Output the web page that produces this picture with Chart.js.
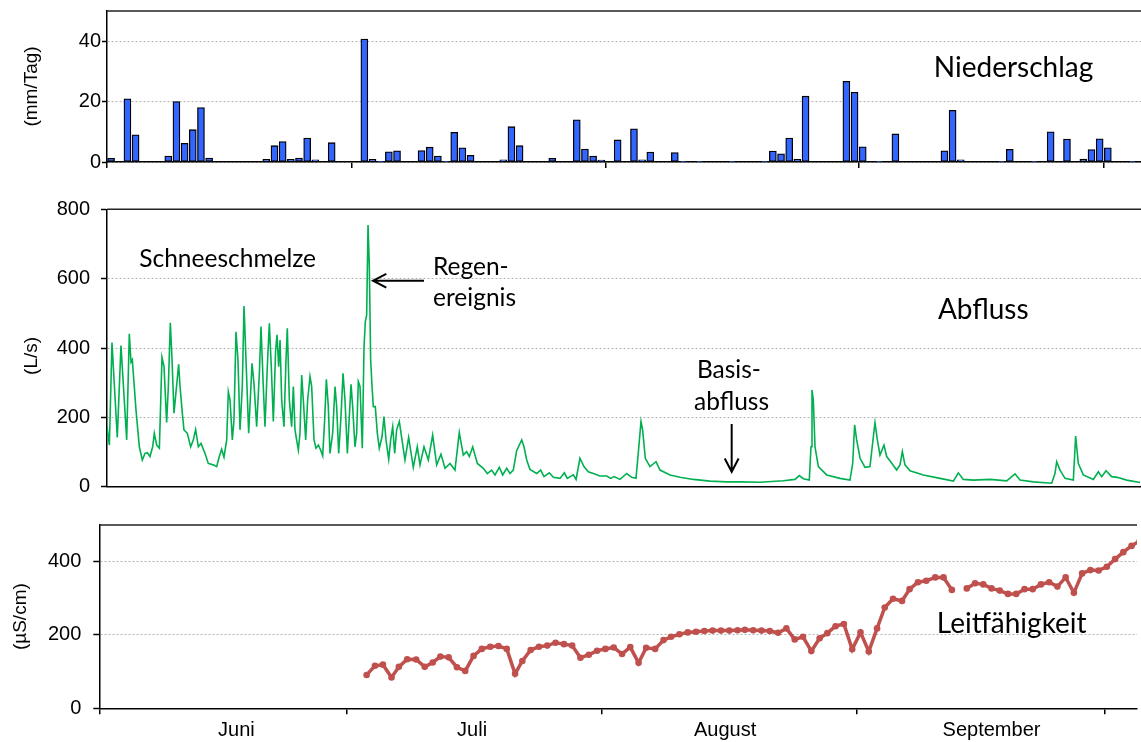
<!DOCTYPE html>
<html lang="de">
<head>
<meta charset="utf-8">
<title>Niederschlag, Abfluss und Leitfähigkeit</title>
<script src="https://cdn.jsdelivr.net/npm/chart.js@4.4.1/dist/chart.umd.min.js"></script>
<style>
  html, body { margin: 0; padding: 0; background: #fff; }
  #wrap { position: relative; width: 1141px; height: 742px; overflow: hidden; }
  canvas { position: absolute; left: 0; }
</style>
</head>
<body>
<div id="wrap">
  <canvas id="cPrecip" width="1141" height="195" style="top:0"></canvas>
  <canvas id="cFlow" width="1141" height="310" style="top:195px"></canvas>
  <canvas id="cCond" width="1141" height="237" style="top:505px"></canvas>
</div>
<script>
// Tag 0 = 1. Juni
const monthStarts = [0, 30, 61, 92, 122];
const monthNames = ['Juni', 'Juli', 'August', 'September'];
const monthLabelDays = [16.65, 45.25, 75.97, 108.3];

// Niederschlag (mm/Tag), ein Wert pro Tag ab 1. Juni
const precip = [
  1.2, 0, 20.9, 9.0, 0, 0, 0, 2.0, 20.0, 6.2, 10.7, 18.0, 1.3, 0, 0, 0, 0, 0, 0, 0.9,
  5.4, 6.8, 0.9, 1.3, 7.9, 0.7, 0, 6.4, 0, 0, 0, 40.7, 0.9, 0.2, 3.4, 3.7, 0, 0, 3.8, 4.9,
  2.0, 0.2, 9.8, 4.7, 2.2, 0, 0, 0, 0.7, 11.7, 5.4, 0, 0, 0, 1.2, 0, 0, 14.0, 4.3, 2.0,
  0.6, 0, 7.3, 0, 11.0, 0.7, 3.3, 0, 0, 3.1, 0.2, 0, 0.2, 0, 0, 0, 0.2, 0, 0, 0,
  0.2, 3.6, 2.7, 7.9, 0.9, 21.8, 0, 0, 0, 0, 26.7, 23.1, 5.0, 0, 0.2, 0, 9.3, 0, 0, 0,
  0, 0, 3.7, 17.1, 0.7, 0, 0, 0, 0, 0.2, 4.2, 0, 0, 0.2, 0, 10.0, 0, 7.6, 0, 1.0,
  4.1, 7.7, 4.7, 0, 0, 0.2, 0
];

// Abfluss (L/s)
const flowDays = [
  0, 0.29, 0.61, 1.26, 1.71, 2.41, 2.73, 2.94, 3.10, 3.55, 3.96, 4.32, 4.65, 4.94, 5.26, 5.59, 5.79, 6.08, 6.41, 6.73,
  6.98, 7.30, 7.51, 7.75, 7.96, 8.20, 8.77, 8.94, 9.22, 9.42, 9.83, 10.24, 10.57, 10.85, 11.18, 11.51, 12.00, 12.40, 13.01, 13.42,
  13.75, 14.03, 14.32, 14.65, 14.85, 15.06, 15.34, 15.54, 15.79, 16.03, 16.28, 16.56, 16.77, 17.09, 17.34, 17.75, 17.99, 18.32, 18.65, 18.85,
  19.13, 19.34, 19.62, 19.87, 20.11, 20.36, 20.64, 20.81, 21.01, 21.18, 21.38, 21.66, 21.91, 22.07, 22.32, 22.60, 22.81, 23.01, 23.21, 23.42,
  23.62, 23.83, 24.03, 24.32, 24.56, 24.85, 25.05, 25.34, 25.58, 25.87, 26.15, 26.40, 26.64, 26.85, 27.09, 27.29, 27.62, 27.91, 28.11, 28.36,
  28.64, 28.89, 29.13, 29.42, 29.66, 29.87, 30.07, 30.35, 30.56, 30.76, 30.97, 31.25, 31.46, 31.62, 31.78, 31.95, 32.11, 32.27, 32.44, 32.60,
  32.84, 33.09, 33.33, 33.66, 33.90, 34.15, 34.48, 34.72, 34.97, 35.21, 35.45, 35.78, 36.47, 36.92, 37.49, 37.98, 38.31, 38.80, 39.33, 39.86,
  40.35, 40.88, 41.37, 41.98, 42.59, 43.12, 43.61, 44.02, 44.35, 44.76, 45.33, 46.06, 46.55, 47.08, 47.49, 48.02, 48.43, 48.92, 49.33, 49.73,
  50.14, 50.76, 51.04, 51.37, 51.77, 52.59, 53.08, 53.49, 54.14, 54.63, 55.45, 55.98, 56.34, 57.08, 57.41, 57.89, 58.38, 58.91, 59.53, 60.34,
  61.16, 61.65, 62.06, 62.79, 63.61, 64.22, 64.75, 65.08, 65.36, 65.56, 65.89, 66.46, 67.20, 67.69, 68.91, 70.13, 71.77, 73.81, 75.85, 77.48,
  79.93, 82.78, 84.21, 84.74, 85.23, 85.96, 86.17, 86.29, 86.45, 86.66, 87.07, 88.09, 89.72, 90.94, 91.27, 91.51, 91.76, 92.17, 92.78, 93.39,
  93.80, 94.00, 94.29, 94.61, 95.10, 95.43, 95.92, 96.65, 97.06, 97.35, 97.67, 98.29, 99.92, 101.96, 103.59, 104.20, 104.81, 106.04, 108.08, 110.12,
  111.14, 111.75, 113.38, 115.63, 116.03, 116.24, 116.65, 117.26, 118.28, 118.56, 118.89, 119.50, 120.73, 121.34, 121.75, 122.28, 122.97, 123.66, 124.81, 126.44
];
const flowValues = [
  173, 120, 416, 142, 407, 135, 441, 359, 366, 221, 115, 77, 96, 98, 87, 115, 154, 120, 111, 373,
  346, 185, 289, 473, 366, 212, 353, 289, 212, 164, 154, 115, 135, 165, 115, 125, 96, 67, 63, 58,
  87, 108, 85, 135, 274, 250, 135, 192, 447, 366, 164, 289, 521, 318, 154, 356, 298, 173, 327, 462,
  289, 173, 346, 471, 346, 188, 394, 438, 346, 423, 250, 173, 366, 457, 250, 173, 289, 164, 135, 106,
  154, 322, 250, 135, 250, 318, 289, 135, 111, 120, 106, 89, 192, 310, 231, 96, 154, 289, 231, 96,
  202, 327, 250, 96, 202, 295, 231, 115, 154, 303, 289, 111, 404, 476, 495, 755, 635, 366, 289, 231,
  231, 154, 111, 144, 202, 135, 79, 135, 173, 96, 164, 188, 77, 142, 56, 115, 63, 115, 77, 149,
  63, 94, 53, 67, 48, 156, 91, 101, 87, 115, 67, 53, 38, 48, 34, 56, 34, 53, 38, 48,
  104, 135, 115, 77, 50, 38, 48, 29, 40, 27, 24, 40, 24, 34, 21, 82, 58, 43, 38, 31,
  31, 24, 29, 21, 38, 27, 24, 111, 188, 164, 82, 58, 72, 48, 34, 27, 21, 16, 14, 14,
  13, 17, 21, 32, 23, 19, 115, 279, 250, 115, 58, 34, 24, 19, 67, 178, 135, 82, 56, 58,
  144, 185, 135, 91, 120, 87, 72, 48, 63, 101, 63, 46, 34, 24, 16, 40, 21, 19, 21, 17,
  37, 19, 14, 10, 38, 72, 48, 24, 19, 146, 67, 34, 21, 43, 29, 46, 29, 27, 19, 12
];

// Leitfähigkeit (µS/cm), null = Messlücke
const condDays = [
  32.45, 33.46, 34.43, 35.47, 36.36, 37.37, 38.46, 39.5, 40.47, 41.4, 42.4, 43.41, 44.42, 45.43, 46.43, 47.45, 48.45, 49.46, 50.47, 51.35,
  52.36, 53.37, 54.38, 55.38, 56.4, 57.4, 58.4, 59.42, 60.42, 61.43, 62.44, 63.45, 64.45, 65.46, 66.38, 67.47, 68.49, 69.4, 70.42, 71.43,
  72.43, 73.45, 74.45, 75.46, 76.47, 77.47, 78.36, 79.37, 80.38, 81.39, 82.4, 83.4, 84.41, 85.42, 86.43, 87.44, 88.37, 89.37, 90.38, 91.39,
  92.4, 93.4, 94.41, 95.34, 96.35, 97.44, 98.36, 99.37, 100.38, 101.47, 102.48, 103.49, 104.4, 105.3, 106.3, 107.3, 108.3, 109.3, 110.3, 111.3,
  112.3, 113.3, 114.3, 115.3, 116.3, 117.3, 118.3, 119.3, 120.3, 121.3, 122.3, 123.3, 124.3, 125.3, 126.3
];
const condValues = [
  91, 116, 119, 84, 113, 134, 133, 113, 125, 141, 139, 112, 102, 143, 162, 168, 170, 162, 94, 129,
  159, 168, 171, 179, 175, 171, 138, 146, 157, 162, 166, 148, 167, 124, 165, 162, 186, 195, 202, 207,
  209, 211, 212, 212, 212, 213, 214, 213, 212, 211, 206, 218, 188, 195, 156, 191, 205, 224, 230, 161,
  207, 155, 218, 275, 299, 293, 325, 344, 348, 357, 357, 323, null, 327, 341, 338, 327, 321, 312, 312,
  325, 325, 338, 344, 332, 357, 315, 368, 377, 376, 386, 407, 426, 443, 457
];

const precipTicks = [0, 20, 40];
const flowTicks = [0, 200, 400, 600, 800];
const condTicks = [0, 200, 400];

const AXIS_FONT = 'Liberation Sans, Arial, sans-serif';
const NOTE_FONT = 'Lato, Calibri, sans-serif';

// Beschriftungen und Pfeile im Diagramm (in Datenkoordinaten)
function notesPlugin(texts, arrows) {
  return {
    id: 'notes',
    afterDraw(chart) {
      const { ctx, chartArea: a, scales } = chart;
      const x = scales.x, y = scales.y;
      ctx.save();
      ctx.strokeStyle = '#222';
      ctx.lineWidth = 1.5;
      ctx.beginPath();
      ctx.moveTo(a.left, a.top);
      ctx.lineTo(a.right, a.top);
      ctx.stroke();
      ctx.fillStyle = '#000';
      ctx.textBaseline = 'alphabetic';
      ctx.textAlign = 'left';
      texts.forEach(t => {
        ctx.font = t.size + 'px ' + NOTE_FONT;
        ctx.fillText(t.text, x.getPixelForValue(t.x), y.getPixelForValue(t.y));
      });
      ctx.lineWidth = 2;
      ctx.strokeStyle = '#000';
      arrows.forEach(ar => {
        const x1 = x.getPixelForValue(ar.from[0]), y1 = y.getPixelForValue(ar.from[1]);
        const x2 = x.getPixelForValue(ar.to[0]), y2 = y.getPixelForValue(ar.to[1]);
        const ang = Math.atan2(y2 - y1, x2 - x1);
        const len = 15, spread = 0.48;
        ctx.beginPath();
        ctx.moveTo(x1, y1);
        ctx.lineTo(x2, y2);
        ctx.moveTo(x2 - len * Math.cos(ang - spread), y2 - len * Math.sin(ang - spread));
        ctx.lineTo(x2, y2);
        ctx.lineTo(x2 - len * Math.cos(ang + spread), y2 - len * Math.sin(ang + spread));
        ctx.stroke();
      });
      ctx.restore();
    }
  };
}

function yAxis(max, ticks, title, axisWidth, titlePad, tickLen, labelPad) {
  return {
    type: 'linear',
    min: 0,
    max: max,
    afterBuildTicks: s => { s.ticks = ticks.map(v => ({ value: v })); },
    afterFit: s => { s.width = axisWidth; },
    grid: { color: '#b4b4b4', lineWidth: 1, tickColor: '#000', tickLength: tickLen, tickWidth: 1.5, tickBorderDash: [] },
    border: { color: '#000', width: 1.5, dash: [2, 2] },
    // kleine lineHeight, damit die Beschriftung den Plotbereich nicht verschiebt
    ticks: { color: '#000', padding: labelPad, font: { family: AXIS_FONT, size: 20, lineHeight: 0.2 } },
    title: {
      display: true, text: title, color: '#000',
      font: { family: AXIS_FONT, size: 19, lineHeight: 1.2 },
      padding: { top: titlePad, bottom: 0 }
    }
  };
}

function xTickAxis(max, height, withTicks) {
  return {
    type: 'linear',
    min: 0,
    max: max,
    offset: false,
    weight: 0,
    afterBuildTicks: s => { s.ticks = monthStarts.map(v => ({ value: v })); },
    afterFit: s => { s.height = height; },
    grid: withTicks
      ? { offset: false, drawOnChartArea: false, drawTicks: true, tickLength: 6, tickColor: '#000', lineWidth: 1.5 }
      : { offset: false, display: false, drawTicks: false },
    border: { display: true, color: '#000', width: 1.5 },
    ticks: { display: false }
  };
}

const common = {
  responsive: false,
  animation: false,
  events: [],
  plugins: { legend: { display: false }, tooltip: { enabled: false } }
};

function build() {
  // Niederschlag
  new Chart(document.getElementById('cPrecip'), {
    type: 'bar',
    data: {
      datasets: [{
        data: precip.map((v, i) => ({ x: i + 0.5, y: v > 0 ? v : null })),
        backgroundColor: '#3366ff',
        borderColor: '#000',
        borderWidth: 1.3,
        borderSkipped: false,
        barThickness: 7
      }]
    },
    options: {
      ...common,
      layout: { padding: { top: 11, left: 0, right: 0, bottom: 0 } },
      scales: {
        x: xTickAxis(126.56, 33, true),
        y: yAxis(50, precipTicks, '(mm/Tag)', 107, 20, 5, 1)
      }
    },
    plugins: [notesPlugin([{ text: 'Niederschlag', x: 101.2, y: 28, size: 28 }], [])]
  });

  // Abfluss
  new Chart(document.getElementById('cFlow'), {
    type: 'line',
    data: {
      datasets: [{
        data: flowDays.map((d, i) => ({ x: d, y: flowValues[i] })),
        borderColor: '#00b050',
        borderWidth: 1.6,
        pointRadius: 0,
        tension: 0
      }]
    },
    options: {
      ...common,
      layout: { padding: { top: 14.3, left: 0, right: 0, bottom: 0 } },
      scales: {
        x: xTickAxis(126.56, 18.3, false),
        y: yAxis(800, flowTicks, '(L/s)   ', 107, 20, 6, 11)
      }
    },
    plugins: [notesPlugin([
      { text: 'Schneeschmelze', x: 3.95, y: 635, size: 24.5 },
      { text: 'Regen-', x: 39.9, y: 611, size: 24.5 },
      { text: 'ereignis', x: 39.9, y: 521, size: 24.5 },
      { text: 'Abfluss', x: 101.7, y: 484, size: 28 },
      { text: 'Basis-', x: 72.2, y: 314, size: 24.5 },
      { text: 'abfluss', x: 71.85, y: 221, size: 24.5 }
    ], [
      { from: [38.8, 594], to: [32.56, 594] },
      { from: [76.46, 181], to: [76.46, 43] }
    ])]
  });

  // Leitfähigkeit
  new Chart(document.getElementById('cCond'), {
    type: 'line',
    data: {
      datasets: [{
        data: condDays.map((d, i) => ({ x: d, y: condValues[i] })),
        borderColor: '#c0504d',
        borderWidth: 3.5,
        pointRadius: 3.3,
        pointBackgroundColor: '#c0504d',
        pointBorderWidth: 0,
        spanGaps: false,
        tension: 0
      }]
    },
    options: {
      ...common,
      layout: { padding: { top: 20, left: 0, right: 0, bottom: 0 } },
      scales: {
        x: xTickAxis(125.96, 6, true),
        xl: {
          type: 'linear',
          axis: 'x',
          position: 'bottom',
          min: 0,
          max: 125.96,
          weight: 1,
          afterBuildTicks: s => { s.ticks = monthLabelDays.map(v => ({ value: v })); },
          afterFit: s => { s.height = 27.7; },
          grid: { display: false, drawTicks: false },
          border: { display: false },
          ticks: {
            color: '#000', padding: 3.7, autoSkip: false, maxRotation: 0,
            font: { family: AXIS_FONT, size: 20, lineHeight: 1.2 },
            callback: (v, i) => monthNames[i]
          }
        },
        y: yAxis(500, condTicks, '(µS/cm)', 99.3, 9, 6, 12)
      }
    },
    plugins: [notesPlugin([{ text: 'Leitfähigkeit', x: 101.66, y: 206, size: 28 }], [])]
  });
}

if (document.fonts && document.fonts.load) {
  Promise.all([
    document.fonts.load('28px Lato'),
    document.fonts.load('20px "Liberation Sans"')
  ]).then(build, build);
} else {
  build();
}
</script>
</body>
</html>
